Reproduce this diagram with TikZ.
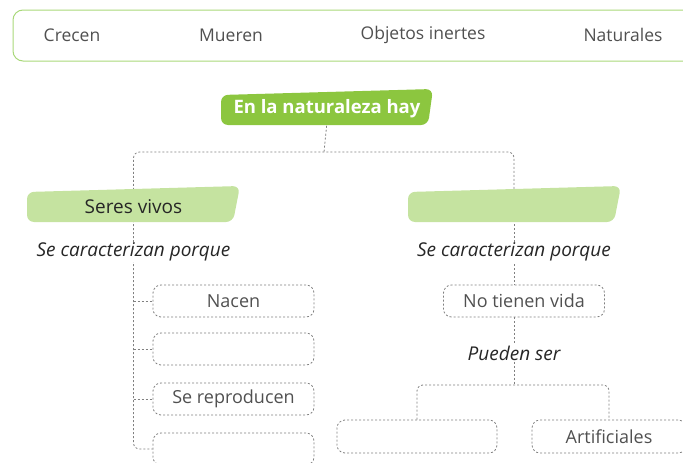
\documentclass[tikz,border=0pt]{standalone}
\usepackage{fontspec}
\setmainfont{Open Sans}
\usetikzlibrary{positioning}
\definecolor{hojaverde}{HTML}{8CC63F}
\definecolor{verdeclaro}{HTML}{C5E3A0}
\definecolor{bordeverde}{HTML}{A9D87A}
\definecolor{gris}{HTML}{808080}
\definecolor{texto}{HTML}{505050}
\pgfdeclarelayer{lineas}
\pgfdeclarelayer{fondos}
\pgfsetlayers{lineas,fondos,main}

\begin{document}
\begin{tikzpicture}[x=1pt,y=-1pt,
	palabra/.style={font=\fontsize{18}{21}\selectfont, text=texto},
	caja/.style={draw=gris, dash pattern=on 2pt off 2pt, line width=0.8pt, rounded corners=8pt, minimum width=161pt, minimum height=32pt, palabra},
	enlace/.style={draw=gris, dash pattern=on 2pt off 2pt, line width=0.8pt, rounded corners=6pt},
	frase/.style={font=\fontsize{19}{22}\selectfont\itshape, text=black!85, fill=white, inner sep=1pt},
	etiqueta/.style={minimum width=150pt, minimum height=26pt}]
\useasboundingbox (0,0) rectangle (683,463);

% banco de palabras
\draw[bordeverde, line width=1pt, rounded corners=10pt] (13,10) rectangle (720,61);
\node [palabra, font=\fontsize{17.5}{21}\selectfont] (crecen) at (72,35) {Crecen};
\node [palabra, font=\fontsize{17.5}{21}\selectfont] (mueren) at (231,35) {Mueren};
\node [palabra, font=\fontsize{17.5}{21}\selectfont] (inertes) at (423,35) {Objetos inertes};
\node [palabra, font=\fontsize{17.5}{21}\selectfont] (naturales) at (623,35) {Naturales};

% titulo y categorias
\node [font=\fontsize{18.5}{22}\selectfont\bfseries, text=white] (title) at (327,109) {En la naturaleza hay};
\node [etiqueta, palabra, font=\fontsize{19}{22}\selectfont, text=black!85] (vivos) at (133.5,207) {Seres vivos};
\node [etiqueta] (inertbox) at (514,207) {};
\begin{pgfonlayer}{fondos}
	\fill[hojaverde, rounded corners=7pt] (221,95) -- (433,89) -- (428,125) -- (221,125) -- cycle;
	\fill[verdeclaro, rounded corners=7pt] (27,192) -- (240,186) -- (233,222) -- (27,222) -- cycle;
	\fill[verdeclaro, rounded corners=7pt] (408,192) -- (621,186) -- (614,222) -- (408,222) -- cycle;
\end{pgfonlayer}

\node [frase] (carL) at (133.5,252) {Se caracterizan porque};
\node [frase] (carR) at (514,252) {Se caracterizan porque};

% seres vivos
\node [caja] (nacen) at (233.5,301) {Nacen};
\node [caja] (blank1) at (233.5,349) {};
\node [caja] (repro) at (233.5,399) {Se reproducen};
\node [caja] (blank2) at (233.5,449) {};

% objetos inertes
\node [caja] (novida) at (524,301) {No tienen vida};
\node [frase] (puede) at (514,353) {Pueden ser};
\node [caja, minimum width=160pt, minimum height=33pt] (natbox) at (417,436.5) {};
\node [caja, minimum width=154pt, minimum height=33pt] (artif) at (609,436.5) {Artificiales};

\coordinate (cruce) at (324,152);
\coordinate (bifurca) at (514,385);

\begin{pgfonlayer}{lineas}
	\draw[enlace] (title.south) -- (cruce);
	\draw[enlace] (vivos.north) -- (vivos.north |- cruce) -- (inertbox.north |- cruce) -- (inertbox.north);
	\draw[enlace] (vivos.south) -- (blank2.west -| vivos.south) -- (blank2.west);
	\draw[enlace] (nacen.west -| vivos.south) -- (nacen.west);
	\draw[enlace] (blank1.west -| vivos.south) -- (blank1.west);
	\draw[enlace] (repro.west -| vivos.south) -- (repro.west);
	\draw[enlace] (inertbox.south) -- (inertbox.south |- novida.north);
	\draw[enlace] (inertbox.south |- novida.south) -- (puede);
	\draw[enlace] (puede) -- (bifurca);
	\draw[enlace] (natbox.north) -- (natbox.north |- bifurca) -- (artif.north |- bifurca) -- (artif.north);
\end{pgfonlayer}
\end{tikzpicture}
\end{document}
